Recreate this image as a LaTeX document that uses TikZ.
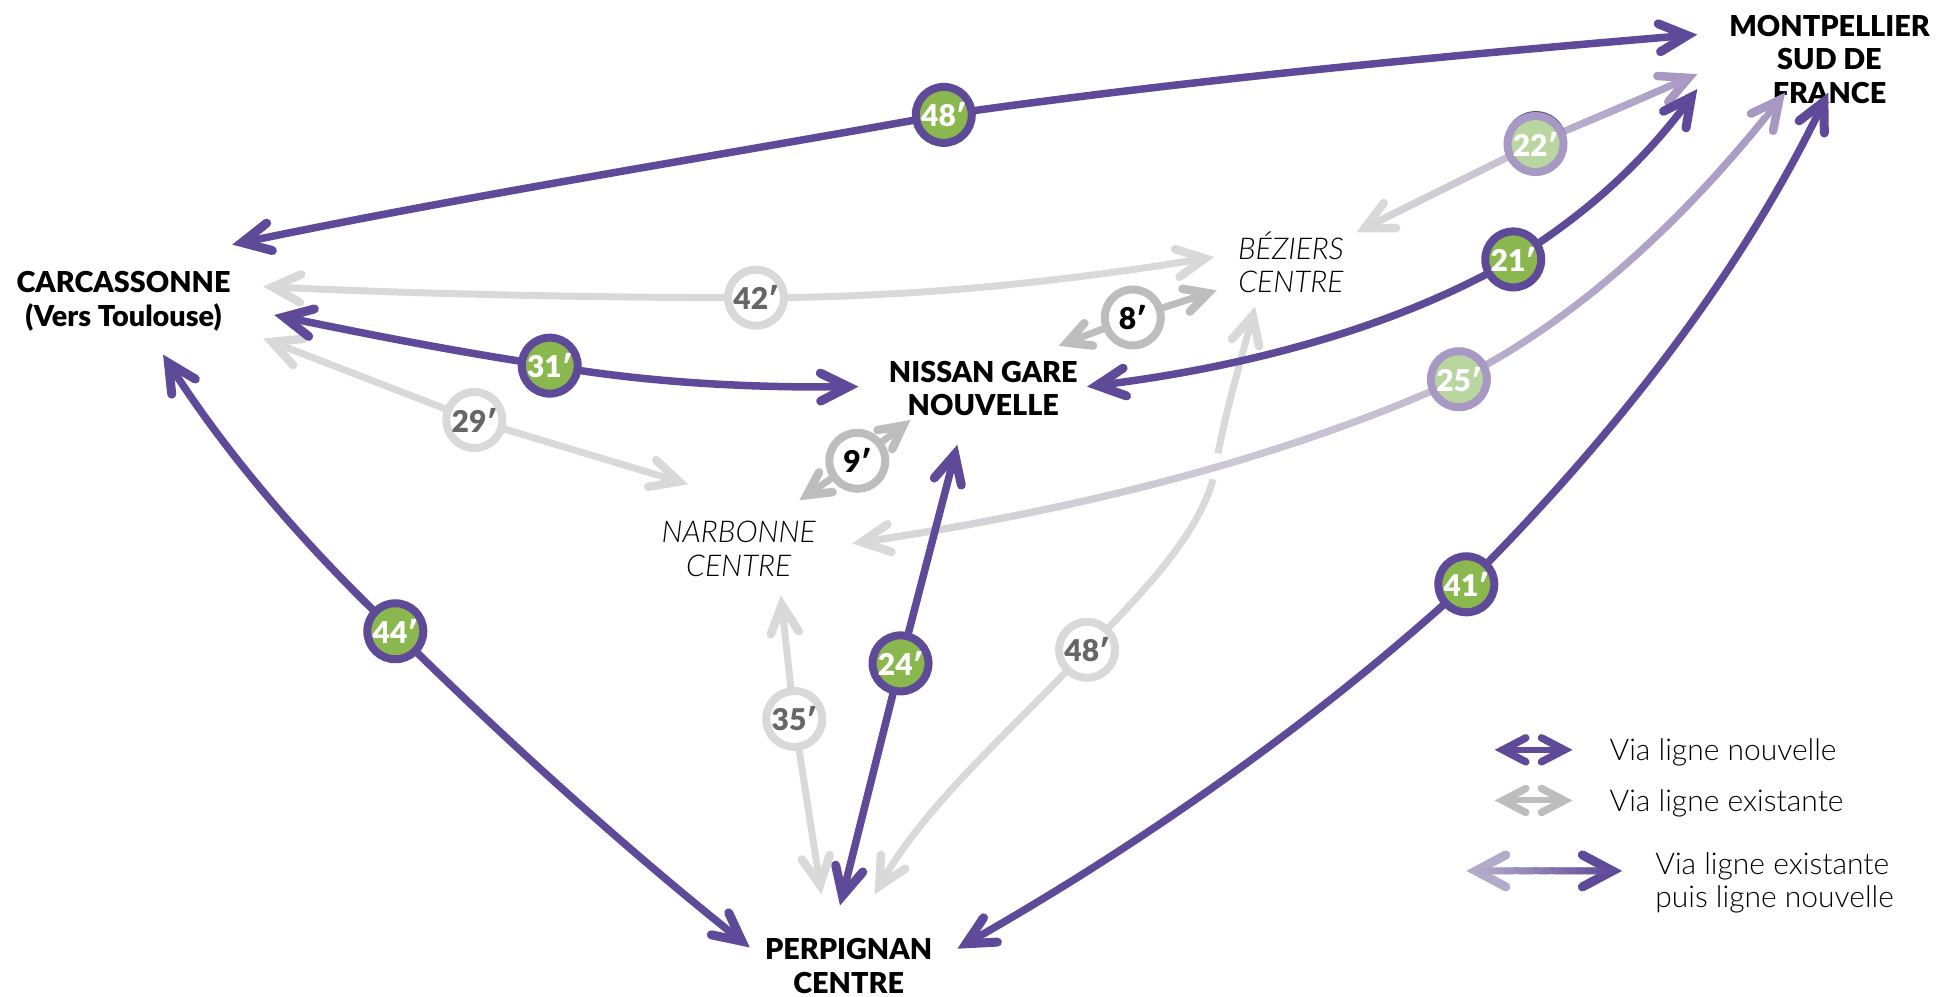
\documentclass[tikz,border=0pt]{standalone}
\usepackage{fontspec}
\setmainfont{Lato}[UprightFont=* Light, ItalicFont=* Light Italic, BoldFont=* Black]
\usetikzlibrary{arrows.meta,shapes.geometric}
\definecolor{pur}{HTML}{5F4A9A}
\definecolor{pale}{HTML}{A898C4}
\definecolor{gry}{HTML}{D9D9D9}
\definecolor{mgry}{HTML}{BDBDBD}
\definecolor{grn}{HTML}{8AB84F}
\definecolor{pgrn}{HTML}{B9D6A0}
\definecolor{txtg}{HTML}{666666}
\definecolor{lA}{HTML}{B3ACC8}
\newcommand{\tipset}[1]{Straight Barb[length=28pt,width=28pt,line width=#1,line cap=round,line join=miter]}
\newcommand{\tipnear}{Straight Barb[length=23pt,width=24pt,line width=8.5pt,line cap=round,line join=miter]}
\tikzset{
  every node/.style={inner sep=0pt,outer sep=0pt},
  city/.style={align=center,font=\fontsize{28.8}{33.5}\selectfont\bfseries,text=black},
  sub/.style={align=center,font=\fontsize{30}{33.5}\selectfont\itshape,text=black},
  legtxt/.style={anchor=west,align=left,font=\fontsize{30}{33}\selectfont,text=black},
  badge/.style={circle,minimum size=56pt,line width=8pt,font=\fontsize{30}{30}\selectfont\bfseries},
  bnew/.style={badge,draw=pur,fill=grn,text=white},
  bold/.style={badge,draw=gry,fill=white,text=txtg},
  bnear/.style={badge,draw=mgry,fill=white,text=black},
  bmix/.style={badge,draw=pale,fill=pgrn,text=white},
  linenew/.style={line width=7.5pt,draw=pur,-{\tipset{9pt}}},
  lineold/.style={line width=7pt,draw=gry,-{\tipset{8.5pt}}},
  linenear/.style={line width=7pt,draw=mgry,-{\tipnear}},
  linemix/.style={line width=6.5pt,draw=pale,-{\tipset{8.5pt}}},
}
% gradient overlay along a Bezier curve: colours \gA (t=0) to \gB (t=1)
\def\gradseg(#1,#2)(#3,#4)(#5,#6)(#7,#8)#9{%
  \foreach \i in {0,...,#9}{%
    \pgfmathsetmacro\ta{\i/40}\pgfmathsetmacro\tb{(\i+1)/40}%
    \pgfmathsetmacro\xa{(1-\ta)^3*#1+3*(1-\ta)^2*\ta*#3+3*(1-\ta)*\ta^2*#5+\ta^3*#7}%
    \pgfmathsetmacro\ya{(1-\ta)^3*#2+3*(1-\ta)^2*\ta*#4+3*(1-\ta)*\ta^2*#6+\ta^3*#8}%
    \pgfmathsetmacro\xb{(1-\tb)^3*#1+3*(1-\tb)^2*\tb*#3+3*(1-\tb)*\tb^2*#5+\tb^3*#7}%
    \pgfmathsetmacro\yb{(1-\tb)^3*#2+3*(1-\tb)^2*\tb*#4+3*(1-\tb)*\tb^2*#6+\tb^3*#8}%
    \pgfmathtruncatemacro\pct{100*\ta}%
    \draw[line width=7pt,line cap=round,color=\gB!\pct!\gA] (\xa,\ya) -- (\xb,\yb);
  }%
}
\begin{document}
\begin{tikzpicture}[x=1.2353pt,y=-1.2353pt]
\useasboundingbox (0,0) rectangle (1568.04,806.3);
% city labels
\node[city] (mtp) at (1481,48) {MONTPELLIER\\SUD DE\\FRANCE};
\node[city] (car) at (100,244) {CARCASSONNE\\(Vers Toulouse)};
\node[city] (nis) at (796,314.5) {NISSAN GARE\\NOUVELLE};
\node[city] (per) at (687,782) {PERPIGNAN\\CENTRE};
\node[sub] (nar) at (598,444.5) {NARBONNE\\CENTRE};
\node[sub] (bez) at (1045,212.5) {BÉZIERS\\CENTRE};
% free ends
\foreach \n/\p in {a/{188,198},b/{1374,28},c/{1098,188},d/{1374,60},e/{880,313},f/{1374,72},
  g/{690,440},h/{1445,75},i/{775,768},j/{1480,75},k/{213,232},l/{983,208},m/{222,255},n/{695,313},
  o/{213,274},p/{557,392},q/{857,280},r/{985,235},s/{647,405},t/{737,340},u/{132,287},v/{607,767},
  w/{680,733},x/{775,360},y/{665,724},z/{632,482},A/{708,724},B/{1016,248},C/{982,388},D/{986,367}}
  {\coordinate (e\n) at (\p);}
% badge centres
\foreach \n/\p in {48/{764,93},22/{1243,116},21/{1225,210},25/{1181,307},41/{1187,473},42/{612,241},
  31/{445,296},29/{384,340},8/{917,257},9/{694,373},44/{320,511},24/{729,537},35/{643,582},48b/{880,526}}
  {\coordinate (p\n) at (\p);}
% existing lines
\draw[lineold] (p42) .. controls (480,241) and (340,238) .. (ek);
\draw[lineold] (p42) .. controls (740,241) and (860,228) .. (el);
\draw[lineold] (p29) -- (eo);
\draw[lineold] (p29) -- (ep);
\draw[lineold] (p35) -- (ey);
\draw[lineold] (p35) -- (ez);
\draw[lineold] (p48b) .. controls (820,590) and (750,650) .. (eA);
\draw[line width=7pt,draw=gry] (p48b) .. controls (935,470) and (970,430) .. (eC);
\draw[lineold] (eD) .. controls (993,330) and (1005,290) .. (eB);
\draw[linenear] (p8) -- (eq);
\draw[linenear] (p8) -- (er);
\draw[linenear] (p9) -- (es);
\draw[linenear] (p9) -- (et);
% mixed lines
\draw[lineold] (p22) -- (ec);
\colorlet{cA}{gry}\colorlet{cB}{gry!55!pale}\colorlet{cC}{gry!35!pale}
\def\gA{cB}\def\gB{cA}
\gradseg(1243,116)(1195,140)(1146,164)(1098,188){35}
\draw[linemix] (p22) -- (ed);
\def\gA{cC}\def\gB{pale}
\gradseg(1243,116)(1335,78)(1350,70)(1374,60){33}
\draw[lineold] (p25) .. controls (1030,375) and (860,415) .. (eg);
\def\gA{cB}\def\gB{cA}
\gradseg(1181,307)(1030,375)(860,415)(690,440){37}
\draw[linemix] (p25) .. controls (1285,255) and (1375,165) .. (eh);
\def\gA{cC}\def\gB{pale}
\gradseg(1181,307)(1285,255)(1375,165)(1445,75){36}
% new lines
\draw[linenew] (p48) .. controls (570,128) and (380,158) .. (ea);
\draw[linenew] (p48) .. controls (960,65) and (1170,45) .. (eb);
\draw[linenew] (p21) .. controls (1130,265) and (1010,297) .. (ee);
\draw[linenew] (p21) .. controls (1290,170) and (1335,125) .. (ef);
\draw[linenew] (p41) .. controls (1070,580) and (930,680) .. (ei);
\draw[linenew] (p41) .. controls (1310,350) and (1410,220) .. (ej);
\draw[linenew] (p31) .. controls (370,285) and (295,270) .. (em);
\draw[linenew] (p31) .. controls (525,310) and (610,314) .. (en);
\draw[linenew] (p44) .. controls (250,445) and (185,370) .. (eu);
\draw[linenew] (p44) .. controls (410,600) and (510,690) .. (ev);
\draw[linenew] (p24) -- (ew);
\draw[linenew] (p24) -- (ex);
% badges
\node[bold] (n42) at (p42) {42′};
\node[bold] (n29) at (p29) {29′};
\node[bold] (n35) at (p35) {35′};
\node[bold] (n48b) at (p48b) {48′};
\node[bnear] (n8) at (p8) {8′};
\node[bnear] (n9) at (p9) {9′};
\fill[pur] (1243.3,115) circle (31pt);
\node[bmix] (n22) at (1243,116.6) {22′};
\node[bmix] (n25) at (p25) {25′};
\node[bnew] (n48) at (p48) {48′};
\node[bnew] (n21) at (p21) {21′};
\node[bnew] (n41) at (p41) {41′};
\node[bnew] (n31) at (p31) {31′};
\node[bnew] (n44) at (p44) {44′};
\node[bnew] (n24) at (p24) {24′};
% legend
\coordinate (l1a) at (1210,607); \coordinate (l1b) at (1273,607);
\coordinate (l2a) at (1210,648); \coordinate (l2b) at (1273,648);
\coordinate (l3a) at (1187,705); \coordinate (l3b) at (1313,705);
\tikzset{
  legnew/.style={line width=6pt,draw=pur,{Straight Barb[length=23pt,width=24pt,line width=7.5pt,line cap=round,line join=miter]}-{Straight Barb[length=23pt,width=24pt,line width=7.5pt,line cap=round,line join=miter]}},
  legold/.style={legnew,draw=mgry},
}
\draw[legnew] (l1a) -- (l1b);
\draw[legold] (l2a) -- (l2b);
\draw[line width=5pt,draw=lA,{Straight Barb[length=30pt,width=32pt,line width=9pt,line cap=round,line join=miter]}-{Straight Barb[length=30pt,width=32pt,line width=9pt,line cap=round,line join=miter]}] (l3a) -- (l3b);
\draw[line width=5pt,draw=pur,-{Straight Barb[length=30pt,width=32pt,line width=9pt,line cap=round,line join=miter]}] (1250,705) -- (l3b);
\def\gA{lA}\def\gB{pur}
\gradseg(1195,705)(1235,705)(1265,705)(1304,705){39}
\node[legtxt] (t1) at (1303,609) {Via ligne nouvelle};
\node[legtxt] (t2) at (1303,650) {Via ligne existante};
\node[legtxt] (t3) at (1340,715) {Via ligne existante\\puis ligne nouvelle};
\end{tikzpicture}
\end{document}
